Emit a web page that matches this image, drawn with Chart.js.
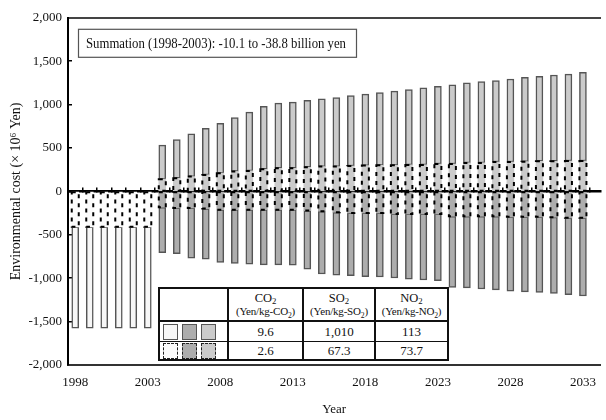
<!DOCTYPE html>
<html><head><meta charset="utf-8">
<script src="https://cdn.jsdelivr.net/npm/chart.js@4.4.0/dist/chart.umd.min.js"></script>
<style>
html,body{margin:0;padding:0;background:#fff;}
#wrap{position:relative;width:606px;height:420px;}
canvas{display:block;}
#tbl{position:absolute;left:158px;top:287px;width:289px;table-layout:fixed;border-collapse:collapse;background:#fff;font-family:"Liberation Serif",serif;color:#111;border:2px solid #111;}
#tbl td{border:1px solid #111;padding:0;text-align:center;line-height:1;overflow:hidden;}
#tbl tr.h td{border-bottom:2px solid #111;}
#tbl td.c{border-right:2px solid #111;}
#tbl sub{font-size:0.7em;vertical-align:baseline;position:relative;top:0.3em;}
.sw{display:inline-block;width:13px;height:14px;margin:0 2px;vertical-align:middle;}
.p1{font-size:12.5px;}
.p2{font-size:11px;margin-top:2px;letter-spacing:-0.2px;}
.v{font-size:13px;}
</style></head><body>
<div id="wrap"><canvas id="c" width="606" height="420"></canvas><table id="tbl"></table></div>
<script>
// ---- data ----
const years = [1998,1999,2000,2001,2002,2003,2004,2005,2006,2007,2008,2009,2010,2011,2012,2013,2014,2015,2016,2017,2018,2019,2020,2021,2022,2023,2024,2025,2026,2027,2028,2029,2030,2031,2032,2033];
const tickYears = [1998,2003,2008,2013,2018,2023,2028,2033];
const co2Years = [1998,1999,2000,2001,2002,2003];
const co2Low  = [-408,-408,-408,-408,-408,-408];
const co2High = [-1575,-1575,-1575,-1575,-1575,-1575];
const gasYears = [2004,2005,2006,2007,2008,2009,2010,2011,2012,2013,2014,2015,2016,2017,2018,2019,2020,2021,2022,2023,2024,2025,2026,2027,2028,2029,2030,2031,2032,2033];
const no2Low  = [141,152,171,190,210,229,236,255,267,267,278,286,286,293,297,300,300,305,305,316,316,328,328,339,339,343,347,347,350,350];
const no2High = [534,598,663,728,785,850,914,979,1017,1029,1048,1067,1082,1105,1120,1138,1156,1173,1192,1211,1227,1250,1265,1276,1295,1314,1326,1341,1352,1371];
const so2Low  = [-183,-190,-190,-198,-210,-210,-210,-210,-210,-210,-221,-229,-240,-248,-248,-248,-259,-259,-259,-259,-286,-286,-286,-286,-293,-293,-293,-297,-305,-305];
const so2High = [-705,-716,-770,-781,-819,-830,-838,-846,-846,-850,-895,-952,-964,-971,-983,-986,-998,-1010,-1021,-1029,-1105,-1112,-1124,-1135,-1150,-1158,-1165,-1175,-1190,-1205];
const yTicks = {min:-2000, max:2000, step:500};
const summaryText = 'Summation (1998-2003): -10.1 to -38.8 billion yen';
const pollutants = ['CO','SO','NO'];
const highCost = [9.6, 1010, 113];
const lowCost = [2.6, 67.3, 73.7];

// ---- styles ----
const FONT = '"Liberation Serif", "Times New Roman", serif';
const C_WHITE = '#f7f7f7', C_DARK = '#adadad', C_LIGHT = '#cbcbcb';
const swatchColors = [C_WHITE, C_DARK, C_LIGHT];

function floating(xs, a, b){ return xs.map((x,i)=>({x:x, y:[a ? a[i] : 0, b[i]]})); }
function solidDs(data, color){ return {data, backgroundColor:color, borderColor:'#555', borderWidth:1.5, borderSkipped:false, grouped:false, barThickness:7}; }
function dashDs(data, color){ return {data, backgroundColor:color, borderWidth:0, grouped:false, barThickness:7, dashed:true}; }

const datasets = [
  dashDs(floating(co2Years, null, co2Low), '#fbfbfb'),
  solidDs(floating(co2Years, co2Low, co2High), C_WHITE),
  dashDs(floating(gasYears, null, no2Low), C_LIGHT),
  solidDs(floating(gasYears, no2Low, no2High), C_LIGHT),
  dashDs(floating(gasYears, null, so2Low), C_DARK),
  solidDs(floating(gasYears, so2Low, so2High), C_DARK)
];

const dashPlugin = {
  id:'dash',
  afterDatasetDraw(chart, args){
    const ds = chart.data.datasets[args.index];
    if(!ds.dashed) return;
    const ctx = chart.ctx;
    ctx.save();
    ctx.setLineDash([4,5]);
    ctx.lineWidth = 2;
    ctx.strokeStyle = '#000';
    args.meta.data.forEach(el=>{
      const p = el.getProps(['x','y','base','width'], true);
      const top = Math.min(p.y, p.base), h = Math.abs(p.y - p.base);
      ctx.strokeRect(p.x - p.width/2, top, p.width, h);
    });
    ctx.restore();
  }
};
const notePlugin = {
  id:'note',
  afterDatasetsDraw(chart){
    const ctx = chart.ctx, a = chart.chartArea;
    ctx.save();
    ctx.font = '14.5px ' + FONT;
    const w = ctx.measureText(summaryText).width;
    const targetW = 260;
    const x = a.left + 10, y = a.top + 11, h = 28, bw = 278;
    ctx.fillStyle = '#fff';
    ctx.fillRect(x, y, bw, h);
    ctx.strokeStyle = '#555'; ctx.lineWidth = 1.2;
    ctx.strokeRect(x + 0.5, y + 0.5, bw, h);
    ctx.fillStyle = '#111'; ctx.textBaseline = 'middle';
    ctx.translate(x + 8, y + h/2 + 1);
    ctx.scale(Math.min(1, targetW / w), 1);
    ctx.fillText(summaryText, 0, 0);
    ctx.restore();
  }
};

const xMin = 1997.5, xMax = 2034.2;
new Chart(document.getElementById('c'), {
  type:'bar',
  data:{datasets},
  options:{
    responsive:false, animation:false, devicePixelRatio:1,
    layout:{padding:{left:8, right:2, top:15, bottom:0}},
    plugins:{legend:{display:false}, tooltip:{enabled:false}},
    scales:{
      x:{type:'linear', min:xMin, max:xMax, position:'bottom', offset:false,
        afterBuildTicks:s=>{ s.ticks = tickYears.map(v=>({value:v})); },
        afterFit:s=>{ s.height = 55; },
        ticks:{font:{family:FONT, size:13}, color:'#111', padding:10, maxRotation:0, autoSkip:false, callback:v=>String(v)},
        grid:{display:false, drawTicks:false, offset:false},
        border:{color:'#333', width:2},
        title:{display:true, text:'Year', font:{family:FONT, size:13}, color:'#111', padding:{top:0, bottom:3}}
      },
      xz:{type:'linear', min:xMin, max:xMax, position:{y:0}, z:1, offset:false,
        afterBuildTicks:s=>{ s.ticks = years.map(v=>({value:v+0.5})); },
        ticks:{display:false},
        grid:{drawOnChartArea:false, drawTicks:true, tickLength:-5, color:'#000', lineWidth:1.5, offset:false},
        border:{color:'#000', width:2.5}
      },
      xt:{type:'linear', min:xMin, max:xMax, position:{y:yTicks.max}, z:1, offset:false,
        ticks:{display:false},
        grid:{display:false, drawTicks:false},
        border:{color:'#444', width:2}
      },
      y:{min:yTicks.min, max:yTicks.max,
        afterFit:s=>{ s.width = 60; },
        ticks:{stepSize:yTicks.step, font:{family:FONT, size:13}, color:'#111', padding:10, callback:v=>Number(v).toLocaleString('en-US')},
        grid:{drawOnChartArea:false, tickLength:-4, color:'#000', lineWidth:1.5},
        border:{color:'#000', width:2},
        title:{display:true, text:'Environmental cost (× 10⁶ Yen)', font:{family:FONT, size:14}, color:'#111', padding:0}
      }
    }
  },
  plugins:[dashPlugin, notePlugin]
});

// ---- table ----
function swatches(dashed){
  return swatchColors.map(c=>`<span class="sw" style="background:${dashed ? (c===C_WHITE ? '#fbfbfb' : c) : c};border:1.5px ${dashed ? 'dashed #222' : 'solid #555'}"></span>`).join('');
}
const fmt = v => Number(v).toLocaleString('en-US');
let html = '<colgroup><col style="width:69px"><col style="width:75px"><col style="width:72px"><col style="width:73px"></colgroup>';
html += '<tr class="h" style="height:33px"><td class="c"></td>' + pollutants.map(p=>`<td class="c"><div class="p1">${p}<sub>2</sub></div><div class="p2">(Yen/kg-${p}<sub>2</sub>)</div></td>`).join('') + '</tr>';
html += '<tr style="height:20px"><td class="c" style="text-align:left;padding-left:1px">' + swatches(false) + '</td>' + highCost.map(v=>`<td class="c v">${fmt(v)}</td>`).join('') + '</tr>';
html += '<tr style="height:19px"><td class="c" style="text-align:left;padding-left:1px">' + swatches(true) + '</td>' + lowCost.map(v=>`<td class="c v">${fmt(v)}</td>`).join('') + '</tr>';
document.getElementById('tbl').innerHTML = html;
</script>
</body></html>
